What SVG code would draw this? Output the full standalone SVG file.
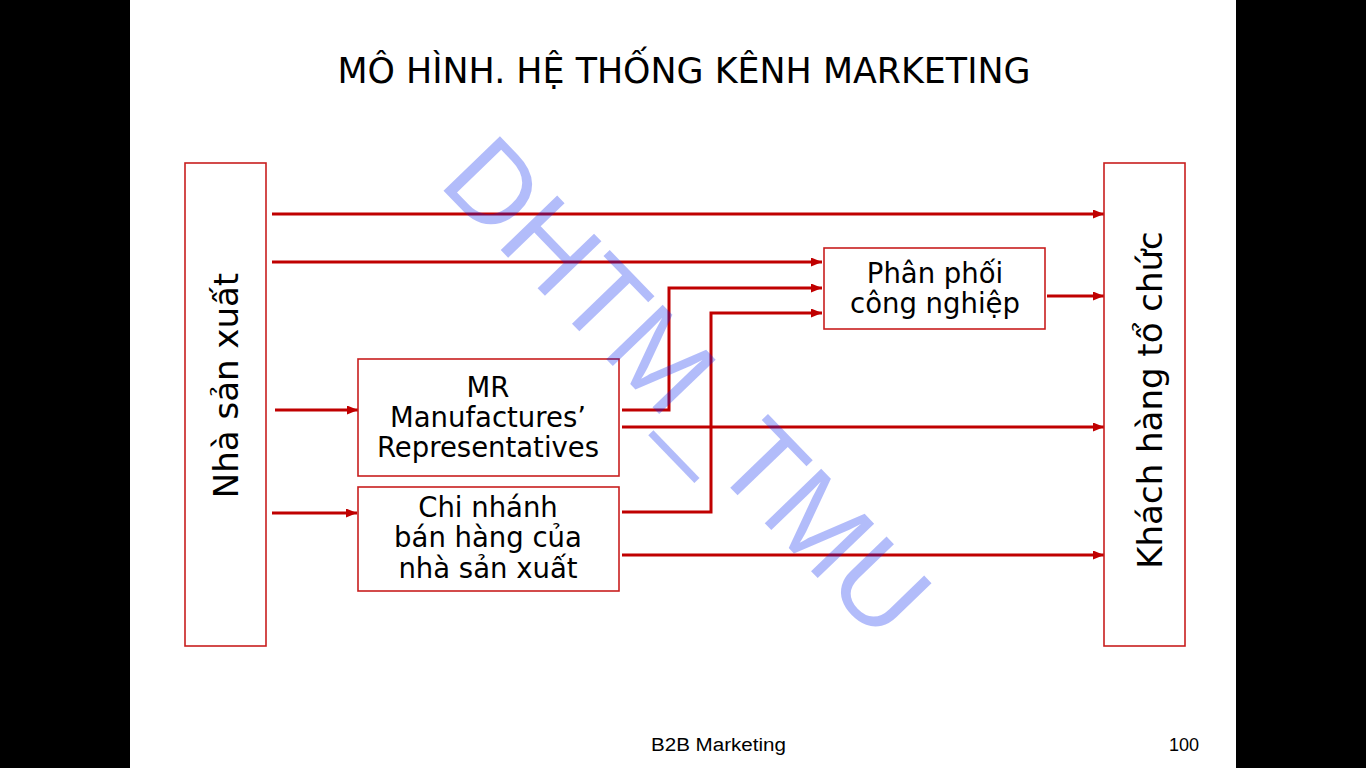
<svg xmlns="http://www.w3.org/2000/svg" width="1366" height="768" viewBox="0 0 1366 768">
<style>
.box{fill:#ffffff;stroke:#c81e1e;stroke-width:1.6}
.ln{fill:none;stroke:#c00000;stroke-width:3}
.t{font-family:"DejaVu Sans","Noto Sans",sans-serif;fill:#000;text-anchor:middle}
.bt{font-size:27.5px}
.rt{font-size:34px}
.ft{font-family:"Liberation Sans",Arial,sans-serif;font-size:18px;fill:#000}
</style>
<defs>
<marker id="ah" markerUnits="userSpaceOnUse" markerWidth="11" markerHeight="9" refX="11" refY="4.5" orient="auto">
<path d="M0,0 L11,4.5 L0,9 z" fill="#c00000"/>
</marker>
</defs>
<rect x="0" y="0" width="1366" height="768" fill="#000"/>
<rect x="130" y="0" width="1106" height="768" fill="#fff"/>
<text class="t" x="684" y="83" font-size="35" textLength="693" lengthAdjust="spacingAndGlyphs">MÔ HÌNH. HỆ THỐNG KÊNH MARKETING</text>
<g id="connectors">
<line class="ln" x1="272" y1="214" x2="1104" y2="214" marker-end="url(#ah)"/>
<line class="ln" x1="272" y1="262" x2="822" y2="262" marker-end="url(#ah)"/>
<line class="ln" x1="275" y1="410" x2="358" y2="410" marker-end="url(#ah)"/>
<line class="ln" x1="272" y1="513" x2="357" y2="513" marker-end="url(#ah)"/>
<polyline class="ln" points="622,410 669,410 669,288 822,288" marker-end="url(#ah)"/>
<line class="ln" x1="622" y1="427" x2="1104" y2="427" marker-end="url(#ah)"/>
<polyline class="ln" points="622,512 711,512 711,313 822,313" marker-end="url(#ah)"/>
<line class="ln" x1="622" y1="555" x2="1104" y2="555" marker-end="url(#ah)"/>
<line class="ln" x1="1047" y1="296" x2="1104" y2="296" marker-end="url(#ah)"/>
</g>
<g id="nha-san-xuat">
<rect class="box" x="185" y="163" width="81" height="483"/>
<text class="t rt" transform="translate(237.5 385.5) rotate(-90)" x="0" y="0">Nhà sản xuất</text>
</g>
<g id="khach-hang">
<rect class="box" x="1104" y="163" width="81" height="483"/>
<text class="t rt" transform="translate(1162 400) rotate(-90)" x="0" y="0">Khách hàng tổ chức</text>
</g>
<g id="phan-phoi">
<rect class="box" x="824" y="248" width="221" height="81"/>
<text class="t bt" x="935" y="283">Phân phối</text>
<text class="t bt" x="935" y="313">công nghiệp</text>
</g>
<g id="mr">
<rect class="box" x="358" y="359" width="261" height="117"/>
<text class="t bt" x="488" y="397">MR</text>
<text class="t bt" x="488" y="427">Manufactures’</text>
<text class="t bt" x="488" y="457">Representatives</text>
</g>
<g id="chi-nhanh">
<rect class="box" x="358" y="487" width="261" height="104"/>
<text class="t bt" x="488" y="517">Chi nhánh</text>
<text class="t bt" x="488" y="547">bán hàng của</text>
<text class="t bt" x="488" y="578">nhà sản xuất</text>
</g>
<text x="437" y="184" transform="rotate(46 437 184)" font-family="Liberation Sans, Arial, sans-serif" font-size="114" fill="#0022ee" fill-opacity="0.3">DHTM_TMU</text>
<text class="ft" x="651" y="751" textLength="135" lengthAdjust="spacingAndGlyphs">B2B Marketing</text>
<text class="ft" x="1199" y="751" text-anchor="end">100</text>
</svg>
